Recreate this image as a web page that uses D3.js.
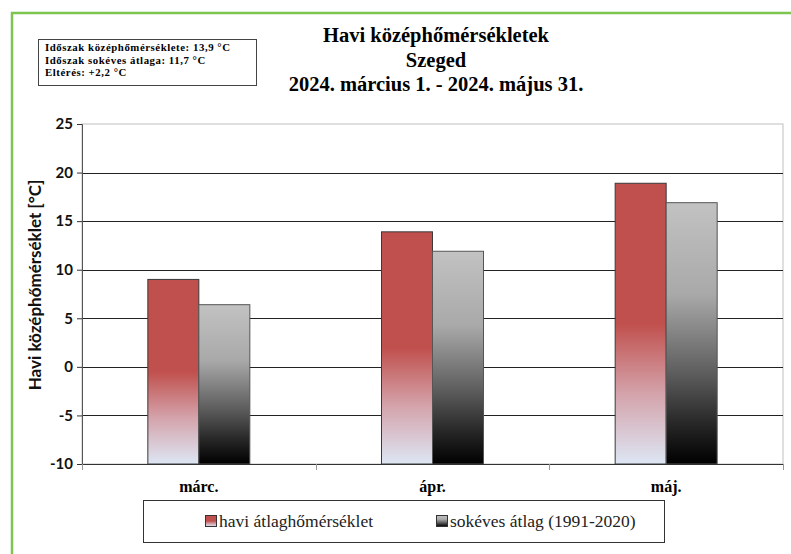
<!DOCTYPE html>
<head>
  <meta charset="utf-8">
  <script src="https://d3js.org/d3.v7.min.js"></script>
  <style>
    body { margin: 0; background: #fff; }
    .serif { font-family: "Liberation Serif", "Times New Roman", serif; }
    .sans { font-family: Lato, "Liberation Sans", sans-serif; font-weight: bold; }
  </style>
</head>

<body>
  <script>
  var categories = ["márc.", "ápr.", "máj."];
  var seriesNames = ["havi átlaghőmérséklet", "sokéves átlag (1991-2020)"];
  var monthly = [9.0, 13.9, 18.9];
  var normal = [6.4, 11.9, 16.9];
  var yTicks = [-10, -5, 0, 5, 10, 15, 20, 25];
  var titleLines = ["Havi középhőmérsékletek", "Szeged", "2024. március 1. - 2024. május 31."];
  var infoLines = ["Időszak középhőmérséklete: 13,9 °C", "Időszak sokéves átlaga: 11,7 °C", "Eltérés: +2,2 °C"];

  var width = 791, height = 554;
  var plot = {left: 82, right: 783, top: 124, bottom: 464};

  var svg = d3.select("body").append("svg")
      .attr("width", width)
      .attr("height", height);

  var defs = svg.append("defs");
  var redGrad = defs.append("linearGradient")
      .attr("id", "gRed").attr("x1", 0).attr("y1", 0).attr("x2", 0).attr("y2", 1);
  [[0, "#c0504d"], [0.5, "#c0504d"], [0.75, "#d4a3ab"], [1, "#dde6f4"]].forEach(function(s) {
    redGrad.append("stop").attr("offset", s[0]).attr("stop-color", s[1]);
  });
  var grayGrad = defs.append("linearGradient")
      .attr("id", "gGray").attr("x1", 0).attr("y1", 0).attr("x2", 0).attr("y2", 1);
  [[0, "#c2c2c2"], [0.35, "#a9a9a9"], [0.65, "#5e5e5e"], [0.85, "#262626"], [1, "#000"]].forEach(function(s) {
    grayGrad.append("stop").attr("offset", s[0]).attr("stop-color", s[1]);
  });

  // green frame (only left/top visible)
  svg.append("rect")
      .attr("x", 12).attr("y", 13)
      .attr("width", width + 20).attr("height", height + 20)
      .attr("fill", "none").attr("stroke", "#7dc451").attr("stroke-width", 2.5);

  var x = d3.scaleBand().domain(categories).range([plot.left, plot.right]);
  var bw = x.bandwidth();
  var barW = 51;
  var xSub = d3.scaleBand().domain(seriesNames).range([bw / 2 - barW, bw / 2 + barW]);
  var y = d3.scaleLinear().domain([-10, 25]).range([plot.bottom, plot.top]);

  // plot border (light gray)
  svg.append("rect")
      .attr("x", plot.left).attr("y", plot.top)
      .attr("width", plot.right - plot.left).attr("height", plot.bottom - plot.top)
      .attr("fill", "none").attr("stroke", "#c0c0c0");

  // gridlines
  svg.append("g").selectAll("line")
    .data(yTicks.filter(function(d) { return d > -10 && d < 25; }))
    .enter().append("line")
      .attr("x1", plot.left).attr("x2", plot.right)
      .attr("y1", function(d) { return Math.round(y(d)) + 0.5; })
      .attr("y2", function(d) { return Math.round(y(d)) + 0.5; })
      .attr("stroke", "#222");

  // y axis
  var yAxis = svg.append("g")
      .attr("transform", "translate(" + plot.left + ",0)")
      .call(d3.axisLeft(y).tickValues(yTicks).tickSize(5).tickPadding(4)
        .tickFormat(function(d) { return String(d); }));
  yAxis.select(".domain").attr("stroke", "#555");
  yAxis.selectAll(".tick line").attr("stroke", "#333");
  yAxis.selectAll("text")
      .attr("class", "sans")
      .attr("font-size", 15)
      .attr("fill", "#111");

  // bars
  var groups = svg.append("g").selectAll("g")
    .data(categories)
    .enter().append("g")
      .attr("transform", function(d) { return "translate(" + x(d) + ",0)"; });

  groups.append("rect")
      .attr("x", xSub(seriesNames[0]))
      .attr("width", xSub.bandwidth())
      .attr("y", function(d, i) { return y(monthly[i]); })
      .attr("height", function(d, i) { return y(-10) - y(monthly[i]); })
      .attr("fill", "url(#gRed)")
      .attr("stroke", "#3a3a3a");

  groups.append("rect")
      .attr("x", xSub(seriesNames[1]))
      .attr("width", xSub.bandwidth())
      .attr("y", function(d, i) { return y(normal[i]); })
      .attr("height", function(d, i) { return y(-10) - y(normal[i]); })
      .attr("fill", "url(#gGray)")
      .attr("stroke", "#555");

  // x axis
  svg.append("line")
      .attr("x1", plot.left).attr("x2", plot.right)
      .attr("y1", plot.bottom + 0.5).attr("y2", plot.bottom + 0.5)
      .attr("stroke", "#333");
  var bounds = categories.map(function(d) { return x(d); }).concat([plot.right]);
  svg.append("g").selectAll("line")
    .data(bounds)
    .enter().append("line")
      .attr("x1", function(d) { return Math.round(d) + 0.5; })
      .attr("x2", function(d) { return Math.round(d) + 0.5; })
      .attr("y1", plot.bottom).attr("y2", plot.bottom + 6)
      .attr("stroke", "#999");

  svg.append("g").selectAll("text")
    .data(categories)
    .enter().append("text")
      .attr("class", "serif")
      .attr("x", function(d) { return x(d) + bw / 2; })
      .attr("y", 492)
      .attr("text-anchor", "middle")
      .attr("font-size", 16)
      .attr("font-weight", "bold")
      .text(function(d) { return d; });

  // y title
  svg.append("text")
      .attr("class", "sans")
      .attr("transform", "translate(41,285)rotate(-90)")
      .attr("text-anchor", "middle")
      .attr("font-size", 17)
      .attr("fill", "#111")
      .text("Havi középhőmérséklet  [°C]");

  // title
  svg.append("g").selectAll("text")
    .data(titleLines)
    .enter().append("text")
      .attr("class", "serif")
      .attr("x", 436)
      .attr("y", function(d, i) { return 42 + i * 24.5; })
      .attr("text-anchor", "middle")
      .attr("font-size", 20.5)
      .attr("font-weight", "bold")
      .text(function(d) { return d; });

  // info box
  svg.append("rect")
      .attr("x", 38.5).attr("y", 39.5).attr("width", 218).attr("height", 46)
      .attr("fill", "#fff").attr("stroke", "#444");
  svg.append("g").selectAll("text")
    .data(infoLines)
    .enter().append("text")
      .attr("class", "serif")
      .attr("x", 45)
      .attr("y", function(d, i) { return 51 + i * 12.5; })
      .attr("font-size", 10.8)
      .attr("letter-spacing", 0.55)
      .attr("font-weight", "bold")
      .text(function(d) { return d; });

  // legend
  svg.append("rect")
      .attr("x", 143.5).attr("y", 500.5).attr("width", 521).attr("height", 42)
      .attr("fill", "#fff").attr("stroke", "#333");
  var legendX = [205, 436];
  var legendFill = ["url(#gRed)", "url(#gGray)"];
  var leg = svg.append("g").selectAll("g")
    .data(seriesNames)
    .enter().append("g")
      .attr("transform", function(d, i) { return "translate(" + legendX[i] + ",515)"; });
  leg.append("rect")
      .attr("x", 0.5).attr("y", 0.5).attr("width", 11).attr("height", 11)
      .attr("fill", function(d, i) { return legendFill[i]; })
      .attr("stroke", "#333");
  leg.append("text")
      .attr("class", "serif")
      .attr("x", 14)
      .attr("y", 12)
      .attr("font-size", 17.5)
      .attr("fill", "#222")
      .text(function(d) { return d; });
  </script>
</body>
